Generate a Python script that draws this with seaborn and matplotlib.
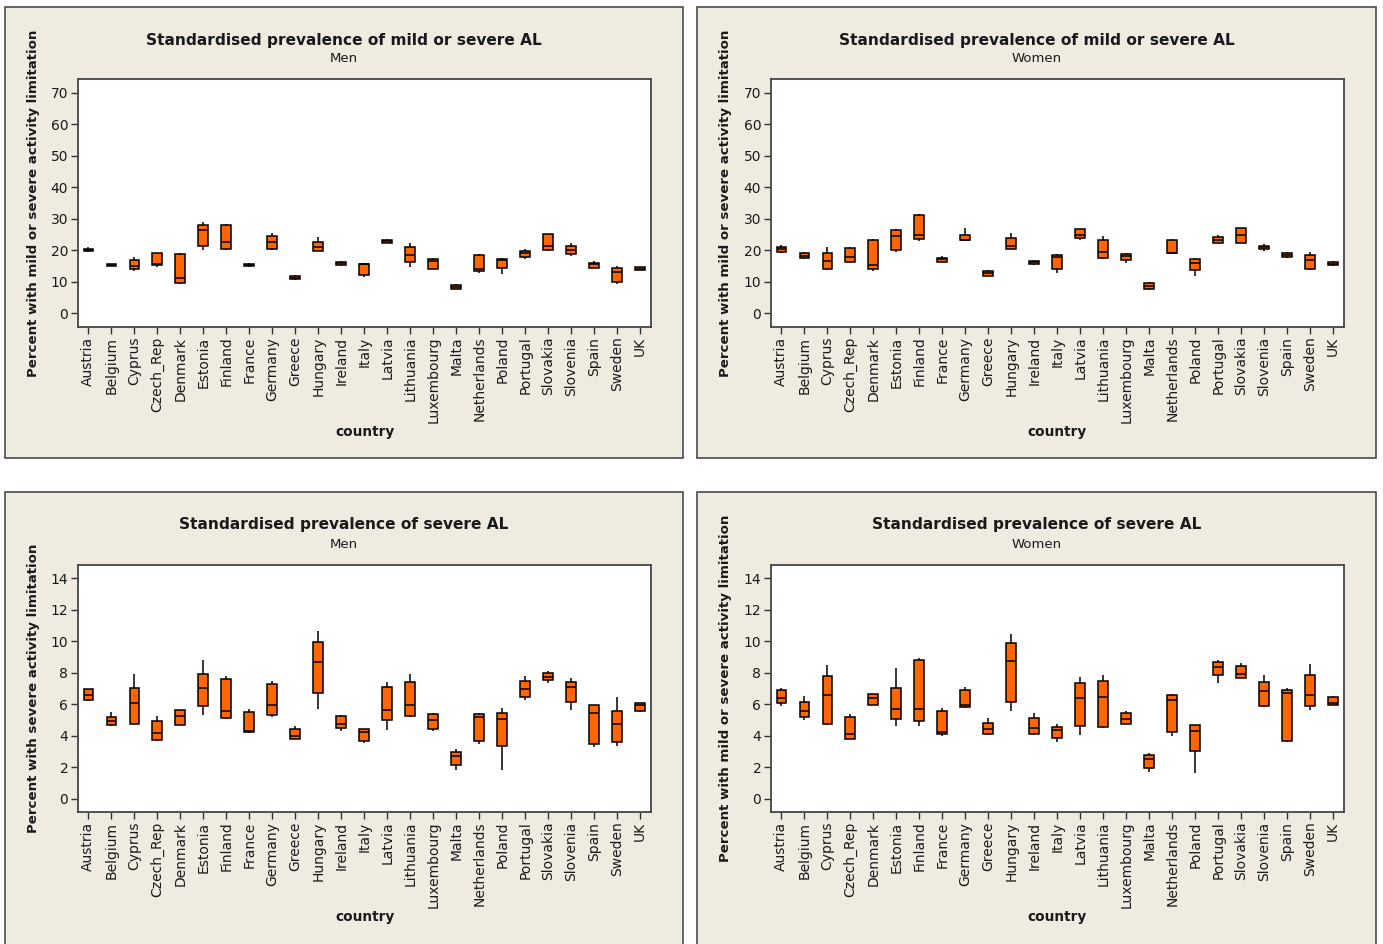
import numpy as np
import pandas as pd
import matplotlib
matplotlib.use("Agg")
import matplotlib.pyplot as plt
from matplotlib.patches import Rectangle
import seaborn as sns

COUNTRIES = ["Austria", "Belgium", "Cyprus", "Czech_Rep", "Denmark", "Estonia",
             "Finland", "France", "Germany", "Greece", "Hungary", "Ireland",
             "Italy", "Latvia", "Lithuania", "Luxembourg", "Malta", "Netherlands",
             "Poland", "Portugal", "Slovakia", "Slovenia", "Spain", "Sweden", "UK"]

# Mild or severe activity limitation, men (%): min, Q1, median, Q3, max
MEN_ANY_LO = [19.6, 15.0, 13.5, 14.8, 9.3, 20.1, 20.0, 14.7, 20.1, 10.5, 19.7, 15.1, 11.6,
              22.2, 14.8, 13.9, 7.6, 12.9, 12.6, 17.1, 19.8, 18.3, 14.3, 9.3, 13.6]
MEN_ANY_Q1 = [19.8, 15.1, 13.9, 15.3, 9.5, 21.3, 20.4, 15.0, 20.5, 10.8, 19.7, 15.3, 12.3,
              22.3, 16.4, 14.1, 7.8, 13.4, 14.5, 17.8, 20.0, 18.8, 14.5, 10.0, 13.8]
MEN_ANY_MED = [20.2, 15.3, 15.1, 15.5, 11.3, 26.3, 22.5, 15.3, 22.5, 11.2, 20.9, 15.9, 15.6,
               22.8, 18.5, 16.6, 8.5, 14.0, 16.9, 19.0, 21.3, 20.1, 15.6, 13.0, 14.2]
MEN_ANY_Q3 = [20.5, 15.7, 16.9, 19.2, 18.9, 27.9, 27.9, 15.6, 24.6, 11.8, 22.6, 16.3, 15.8,
              23.3, 21.1, 17.2, 9.0, 18.5, 17.2, 19.9, 25.1, 21.4, 16.1, 14.3, 14.6]
MEN_ANY_HI = [20.9, 15.8, 18.0, 19.2, 19.1, 28.9, 28.4, 15.9, 25.6, 12.0, 24.2, 16.6, 16.0,
              23.5, 22.3, 17.6, 9.3, 18.8, 17.7, 20.5, 25.3, 22.3, 16.6, 15.1, 14.8]

# Mild or severe activity limitation, women (%)
WOMEN_ANY_LO = [19.0, 17.2, 13.8, 16.1, 13.5, 19.6, 22.9, 16.3, 23.1, 11.7, 20.3, 15.3, 12.7,
                23.1, 17.2, 16.1, 7.3, 18.7, 11.9, 22.2, 22.2, 19.8, 17.6, 13.8, 15.1]
WOMEN_ANY_Q1 = [19.3, 17.5, 14.0, 16.4, 14.0, 20.0, 23.5, 16.4, 23.2, 11.9, 20.5, 15.6, 14.0,
                23.8, 17.5, 16.8, 7.7, 19.0, 13.8, 22.3, 22.3, 20.5, 17.9, 14.0, 15.2]
WOMEN_ANY_MED = [20.5, 18.3, 16.6, 17.8, 15.3, 24.5, 25.0, 17.2, 23.3, 12.9, 21.2, 16.2, 18.0,
                 24.7, 19.5, 18.1, 8.6, 19.2, 16.1, 23.3, 24.9, 21.0, 18.6, 16.9, 15.7]
WOMEN_ANY_Q3 = [21.1, 19.0, 19.1, 20.7, 23.2, 26.3, 31.2, 17.7, 25.0, 13.5, 23.8, 16.5, 18.5,
                26.6, 23.3, 18.8, 9.5, 23.3, 17.3, 24.2, 27.1, 21.5, 19.1, 18.5, 16.2]
WOMEN_ANY_HI = [21.7, 19.4, 21.1, 21.0, 23.6, 26.9, 31.5, 18.3, 27.1, 13.7, 25.6, 16.9, 18.9,
                26.8, 24.6, 19.2, 10.0, 23.5, 17.7, 24.9, 27.2, 22.0, 19.3, 19.5, 16.6]

# Severe activity limitation, men (%)
MEN_SEV_LO = [6.19, 4.62, 4.75, 3.64, 4.70, 5.30, 5.08, 4.15, 5.17, 3.79, 5.72, 4.32, 3.56,
              4.39, 5.21, 4.32, 1.82, 3.47, 1.82, 6.27, 7.37, 5.66, 3.26, 3.35, 5.51]
MEN_SEV_Q1 = [6.27, 4.66, 4.75, 3.73, 4.70, 5.91, 5.15, 4.24, 5.30, 3.79, 6.74, 4.47, 3.64,
              4.98, 5.28, 4.45, 2.12, 3.64, 3.33, 6.48, 7.54, 6.12, 3.47, 3.58, 5.59]
MEN_SEV_MED = [6.59, 4.94, 6.06, 4.19, 5.23, 7.03, 5.55, 4.28, 5.93, 3.96, 8.69, 4.72, 4.26,
               5.61, 5.97, 5.00, 2.69, 5.21, 5.06, 6.95, 7.75, 7.10, 5.44, 4.77, 5.93]
MEN_SEV_Q3 = [6.97, 5.21, 7.03, 4.96, 5.66, 7.94, 7.63, 5.53, 7.27, 4.43, 9.96, 5.23, 4.41,
              7.12, 7.39, 5.38, 2.99, 5.38, 5.44, 7.48, 8.01, 7.39, 5.97, 5.59, 6.06]
MEN_SEV_HI = [6.97, 5.53, 7.94, 5.25, 5.66, 8.83, 7.78, 5.68, 7.50, 4.62, 10.66, 5.30, 4.41,
              7.42, 7.90, 5.44, 3.16, 5.44, 5.76, 7.80, 8.09, 7.65, 5.97, 6.44, 6.06]

# Severe activity limitation, women (%)
WOMEN_SEV_LO = [5.87, 5.02, 4.66, 3.81, 5.97, 4.62, 4.64, 3.98, 5.76, 4.05, 5.55, 4.07, 3.58,
                4.03, 4.49, 4.77, 1.69, 3.96, 1.61, 7.35, 7.65, 5.83, 3.58, 5.61, 5.97]
WOMEN_SEV_Q1 = [6.08, 5.17, 4.72, 3.81, 5.97, 5.08, 4.96, 4.13, 5.85, 4.09, 6.17, 4.11, 3.88,
                4.64, 4.56, 4.77, 1.95, 4.26, 3.01, 7.86, 7.69, 5.89, 3.67, 5.89, 5.97]
WOMEN_SEV_MED = [6.42, 5.57, 6.61, 4.13, 6.38, 5.70, 5.70, 4.26, 5.93, 4.45, 8.77, 4.49, 4.34,
                 6.40, 6.46, 5.04, 2.50, 6.25, 4.28, 8.39, 7.94, 6.84, 6.69, 6.59, 6.06]
WOMEN_SEV_Q3 = [6.89, 6.17, 7.80, 5.19, 6.67, 7.06, 8.79, 5.57, 6.89, 4.81, 9.89, 5.11, 4.56,
                7.37, 7.50, 5.42, 2.78, 6.61, 4.66, 8.71, 8.41, 7.44, 6.91, 7.88, 6.46]
WOMEN_SEV_HI = [7.06, 6.53, 8.52, 5.40, 6.67, 8.33, 8.94, 5.78, 7.12, 5.11, 10.44, 5.47, 4.75,
                7.73, 7.88, 5.57, 2.92, 6.67, 4.66, 8.79, 8.62, 7.88, 7.06, 8.58, 6.55]

TITLE_ANY = "Standardised prevalence of mild or severe AL"
TITLE_SEV = "Standardised prevalence of severe AL"
YLAB_ANY = "Percent with mild or severe activity limitation"
YLAB_SEV = "Percent with severe activity limitation"
TICKS_ANY = [0, 10, 20, 30, 40, 50, 60, 70]
TICKS_SEV = [0, 2, 4, 6, 8, 10, 12, 14]

BG = "#EFEBE1"
BOX = "#FF6600"
INK = "#1A1A1A"

W, H = 1383, 944
sns.set_theme(style="white")
plt.rcParams["font.family"] = ["DejaVu Sans"]

fig = plt.figure(figsize=(W / 100, H / 100), dpi=100, facecolor="white")


def fx(x):
    return x / W


def fy(y):
    return 1 - y / H


def summary_frame(lo, q1, med, q3, hi):
    # five values per country reproduce min / quartiles / median exactly
    rows = []
    for i, c in enumerate(COUNTRIES):
        for v in (lo[i], q1[i], med[i], q3[i], hi[i]):
            rows.append({"country": c, "value": v})
    return pd.DataFrame(rows)


def panel(px0, py0, px1, py1, plot_box, stats, title, sub, ylab, yticks, ylim):
    fig.patches.append(Rectangle((fx(px0), fy(py1)), fx(px1 - px0), (py1 - py0) / H,
                                 transform=fig.transFigure, facecolor=BG,
                                 edgecolor="#4A4A4A", linewidth=1.2, zorder=-10))
    l, t, r, b = plot_box
    ax = fig.add_axes([fx(l), fy(b), fx(r - l), (b - t) / H])
    ax.set_zorder(2)
    ax.set_facecolor("white")
    df = summary_frame(*stats)
    sns.boxplot(data=df, x="country", y="value", order=COUNTRIES, ax=ax,
                whis=(0, 100), width=0.42, color=BOX, saturation=1,
                showcaps=False, linecolor="black", linewidth=1.1, fliersize=0)
    ax.set_xlim(-0.45, 24.47)
    ax.set_ylim(*ylim)
    ax.set_yticks(yticks)
    ax.set_xlabel("")
    ax.set_ylabel("")
    ax.tick_params(axis="both", which="both", direction="out", length=5, width=1,
                   color="#333333", labelcolor=INK, labelsize=10, pad=2,
                   left=True, bottom=True)
    ax.tick_params(axis="x", labelrotation=90)
    for s in ax.spines.values():
        s.set_color("#444444")
        s.set_linewidth(1.3)
    cx = (px0 + px1) / 2
    fig.text(fx(cx), fy(py0 + 33), title, ha="center", va="center",
             fontsize=11.1, fontweight="bold", color=INK)
    fig.text(fx(cx), fy(py0 + 52), sub, ha="center", va="center",
             fontsize=9.5, color=INK)
    fig.text(fx((l + r) / 2), fy(py0 + 425), "country", ha="center", va="center",
             fontsize=9.8, fontweight="bold", color=INK)
    fig.text(fx(px0 + 29), fy((t + b) / 2), ylab, ha="center", va="center",
             rotation=90, fontsize=9.6, fontweight="bold", color=INK)
    return ax


panel(5, 7, 683, 458, (78, 79, 651, 327),
      (MEN_ANY_LO, MEN_ANY_Q1, MEN_ANY_MED, MEN_ANY_Q3, MEN_ANY_HI),
      TITLE_ANY, "Men", YLAB_ANY, TICKS_ANY, (-4.35, 74.35))
panel(697, 7, 1376, 458, (771, 79, 1344, 327),
      (WOMEN_ANY_LO, WOMEN_ANY_Q1, WOMEN_ANY_MED, WOMEN_ANY_Q3, WOMEN_ANY_HI),
      TITLE_ANY, "Women", YLAB_ANY, TICKS_ANY, (-4.35, 74.35))
panel(5, 492, 683, 960, (78, 565, 651, 812),
      (MEN_SEV_LO, MEN_SEV_Q1, MEN_SEV_MED, MEN_SEV_Q3, MEN_SEV_HI),
      TITLE_SEV, "Men", YLAB_SEV, TICKS_SEV, (-0.85, 14.85))
panel(697, 492, 1376, 960, (771, 565, 1344, 812),
      (WOMEN_SEV_LO, WOMEN_SEV_Q1, WOMEN_SEV_MED, WOMEN_SEV_Q3, WOMEN_SEV_HI),
      TITLE_SEV, "Women", YLAB_ANY, TICKS_SEV, (-0.85, 14.85))

fig.savefig("out.png", dpi=100, facecolor="white")
